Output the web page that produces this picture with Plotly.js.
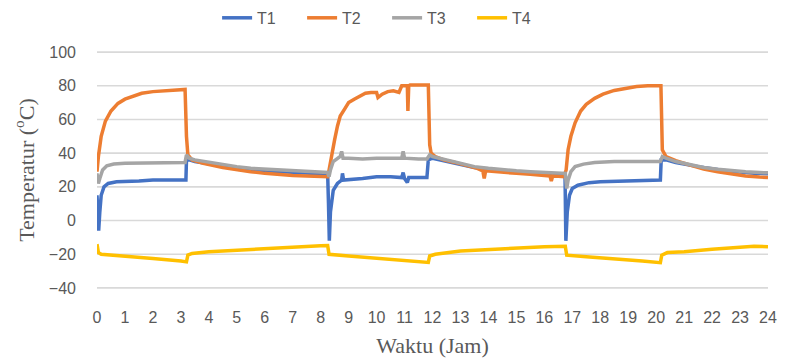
<!DOCTYPE html>
<html>
<head>
<meta charset="utf-8">
<script src="https://cdn.plot.ly/plotly-3.0.1.min.js"></script>
<style>html,body{margin:0;padding:0;background:#fff;}#chart{width:790px;height:358px;}</style>
</head>
<body>
<div id="chart"></div>
<script>
// ---- Data ----
const seriesNames = ["T1", "T2", "T3", "T4"];
const xTickVals = [0,1,2,3,4,5,6,7,8,9,10,11,12,13,14,15,16,17,18,19,20,21,22,23,24];
const xTickText = ["0","1","2","3","4","5","6","7","8","9","10","11","12","13","14","15","16","17","18","19","20","21","22","23","24"];
const yTickVals = [-40,-20,0,20,40,60,80,100];

const t1Time = [0,0.03,0.06,0.1,0.15,0.25,0.4,0.7,1.0,1.5,2.0,2.5,3.0,3.18,3.2,3.3,3.5,4.0,5.0,6.0,7.0,8.0,8.25,
  8.28,8.31,8.35,8.45,8.6,8.75,8.78,8.82,9.5,10.0,10.5,10.9,10.95,11.0,11.1,11.15,11.8,11.85,12.0,12.5,13.0,13.5,14.0,14.5,15.0,15.5,16.0,16.5,16.74,
  16.77,16.82,16.9,17.0,17.2,17.6,18.0,19.0,20.0,20.15,20.18,20.35,20.7,21.5,22.5,23.5,24.0];
const t1Temp = [15,5,-6,5,15,20,22,23,23,23.5,24,24,24,24,36,36,35,33.5,31,29.5,28.5,28,27.5,
  10,-12,5,18,22,24,28,24,25,26,26,25.5,28.5,25,22.5,25.5,25.5,36,37,35,33.5,31.5,30.5,29.5,28.5,28,27.5,27,27,
  -12,5,15,19,21,22.5,23,23.5,23.5,24,36,36,34.5,32,29.5,28,27.8];

const t2Time = [0,0.05,0.15,0.3,0.5,0.75,1.0,1.3,1.6,2.0,2.4,2.8,3.15,3.2,3.25,3.4,3.8,4.5,5.0,5.5,6.0,6.5,7.0,7.5,8.0,8.25,
  8.3,8.4,8.5,8.6,8.7,8.85,9.0,9.2,9.4,9.6,9.8,10.0,10.05,10.2,10.4,10.6,10.8,10.9,11.0,11.1,11.12,11.15,11.2,11.5,11.85,
  11.9,11.95,12.1,12.4,12.8,13.2,13.6,13.8,13.85,13.9,14.2,14.6,15.0,15.5,16.0,16.2,16.25,16.3,16.5,16.7,
  16.78,16.85,16.95,17.1,17.3,17.5,17.8,18.1,18.5,18.9,19.3,19.7,20.1,20.17,
  20.22,20.35,20.7,21.2,21.7,22.2,22.7,23.2,23.7,24.0];
const t2Temp = [29,38,50,59,65,69.5,72,74,75.5,76.5,77,77.5,77.8,50,39,36,34,31.5,30,29,28,27.2,26.8,26.5,26.3,26,
  30,40,48,56,62,66,70,72,74,75.5,76,76,73,75,76.5,77,76,80,80,80,65,80,80.5,80.5,80.5,
  45,40,38,36,34.5,33,31,29.5,25,29.5,29,28.5,28,27.5,27,26.5,23.5,26.5,26.3,26,
  30,42,50,58,65,69,72.5,75,77.2,78.5,79.5,80,80,80,
  42,38,35.5,33,30.5,29,27.5,26.5,25.8,25.5];

const t3Time = [0,0.05,0.1,0.2,0.35,0.6,1.0,1.5,2.0,2.5,3.0,3.15,3.2,3.3,3.5,4.0,4.5,5.0,5.5,6.0,6.5,7.0,7.5,8.0,8.25,
  8.3,8.35,8.45,8.6,8.7,8.75,8.8,9.0,9.5,10.0,10.5,10.9,10.95,11.0,11.5,11.8,11.9,12.0,12.5,13.0,13.5,14.0,14.5,15.0,15.5,16.0,16.5,16.75,
  16.8,16.85,16.95,17.1,17.4,17.8,18.5,19.0,19.5,20.0,20.15,20.22,20.35,20.7,21.2,21.7,22.2,22.7,23.2,23.7,24.0];
const t3Temp = [28,22,25,30,32.5,33.5,34,34,34.5,34.5,34.5,34.5,39,37,36,34.5,33,32,31,30.5,30,29.5,29,28.8,28.5,
  26,30,35,36.5,38,41,37,37,36.5,37,37,37,41,37,36.5,36.5,39,38,36,34,32,31,30,29.5,29,28.5,28.3,28,
  19,24,29,32,33.5,34.5,35,35,34.5,34.5,35,38,37,35,33,31.5,30.5,29.5,29,28.5,28.3];

const t4Time = [0,0.05,0.15,1.0,2.0,3.0,3.2,3.25,3.4,4.0,5.0,6.0,7.0,8.0,8.25,
  8.3,9.0,10.0,11.0,11.85,11.9,12.1,13.0,14.0,15.0,16.0,16.75,
  16.8,17.5,18.5,19.5,20.15,20.2,20.4,21.0,22.0,23.0,23.5,24.0];
const t4Temp = [-14,-19,-20,-21,-22.5,-24,-24.5,-20.5,-19.5,-18.5,-17.5,-16.5,-15.5,-15,-14.8,
  -20,-21,-22.5,-23.5,-24.8,-21,-20,-18,-17,-16,-15.5,-15.3,
  -20.5,-21.5,-22.5,-24,-25,-20.5,-19,-18.5,-17,-16,-15.2,-15.5];

const colors = ["#4472C4", "#ED7D31", "#A5A5A5", "#FFC000"];
const xs = [t1Time, t2Time, t3Time, t4Time];
const ys = [t1Temp, t2Temp, t3Temp, t4Temp];

// horizontal grid lines at each y tick, spanning the x tick range (drawn beneath the data)
const xFirst = xTickVals[0], xLast = xTickVals[xTickVals.length - 1];
const gridX = [], gridY = [];
yTickVals.forEach(v => { gridX.push(xFirst, xLast, null); gridY.push(v, v, null); });
const gridTrace = {
  x: gridX, y: gridY, type: "scatter", mode: "lines", showlegend: false, hoverinfo: "skip",
  line: {color: "#D9D9D9", width: 1.6}, connectgaps: false
};

const traces = [gridTrace].concat(seriesNames.map((name, i) => ({
  x: xs[i], y: ys[i], name: name, type: "scatter", mode: "lines",
  line: {color: colors[i], width: 3.5}
})));

const layout = {
  width: 790, height: 358,
  margin: {l: 97, r: 22, t: 51, b: 69},
  paper_bgcolor: "#ffffff", plot_bgcolor: "#ffffff",
  font: {family: "Liberation Sans, Arial, sans-serif", size: 16, color: "#595959"},
  showlegend: true,
  legend: {orientation: "h", x: 0.49, xanchor: "center", xref: "container", y: 0.95, yanchor: "middle", yref: "container",
    font: {size: 16, color: "#595959"}, entrywidth: 40, entrywidthmode: "pixels", traceorder: "normal"},
  xaxis: {range: [0, 24], tickmode: "array", tickvals: xTickVals, ticktext: xTickText, showgrid: false, zeroline: false, automargin: false,
    showline: false, ticks: "outside", ticklen: 14, tickcolor: "rgba(0,0,0,0)",
    tickfont: {size: 16, color: "#595959"},
    title: {text: "Waktu (Jam)", font: {family: "Liberation Serif, Times New Roman, serif", size: 22, color: "#595959"}, standoff: 12}},
  yaxis: {range: [-40.6, 100.6], tickmode: "array", tickvals: yTickVals, showgrid: true, gridcolor: "#D9D9D9", gridwidth: 1, zeroline: false, automargin: false,
    ticks: "", ticklabelstandoff: 20,
    tickfont: {size: 16, color: "#595959"},
    title: {text: "Temperatur (<sup>o</sup>C)", font: {family: "Liberation Serif, Times New Roman, serif", size: 22, color: "#595959"}, standoff: 8}}
};

Plotly.newPlot("chart", traces, layout, {displayModeBar: false});
</script>
</body>
</html>
